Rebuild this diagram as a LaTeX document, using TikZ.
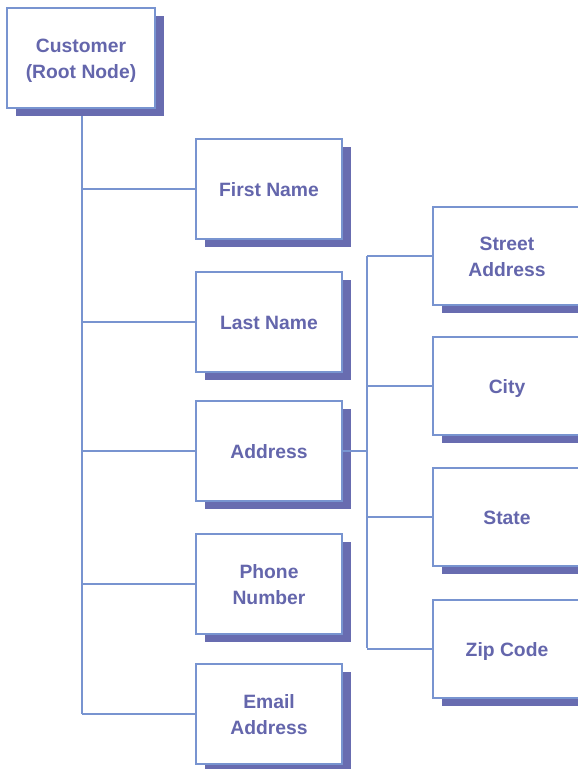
\documentclass[tikz,border=0pt]{standalone}
\usepackage{fontspec}
\setmainfont{Liberation Sans}[BoldFont={Liberation Sans Bold}]
\usetikzlibrary{shadows}
\definecolor{bordercol}{RGB}{120,148,208}
\definecolor{shadowcol}{RGB}{104,108,176}
\definecolor{textcol}{RGB}{100,102,172}
\newcommand{\boxtext}[1]{\raisebox{-7.5pt}[0pt][0pt]{\begin{tabular}{@{}c@{}}#1\end{tabular}}}
\tikzset{
  box/.style={draw=bordercol, line width=1.2pt, fill=white, align=center,
    text=textcol, font=\bfseries\fontsize{19.3}{26.5}\selectfont,
    inner sep=0pt, minimum width=146pt, minimum height=100pt,
    drop shadow={shadow xshift=8.5pt, shadow yshift=-7.5pt, fill=shadowcol, opacity=1}},
  rbox/.style={box, minimum width=148pt, minimum height=98pt},
  rootbox/.style={box, minimum width=148pt},
  conn/.style={draw=bordercol, line width=1.2pt}
}
\begin{document}
\begin{tikzpicture}[x=1pt,y=-1pt]
\useasboundingbox (0,0) rectangle (578,769);
\clip (0,0) rectangle (578,769);
\fill[white] (0,0) rectangle (578,769);
\coordinate (t0) at (82,108);
\coordinate (t5) at (82,714);
\coordinate (r0) at (367,256);
\coordinate (r4) at (367,648);
\draw[conn] (t0) -- (t5);
\draw[conn] (r0) -- (r4);
\node[rootbox] (root) at (81,58) {\boxtext{Customer\\(Root Node)}};
\node[box] (first) at (269,189) {\boxtext{First Name}};
\node[box] (last) at (269,322) {\boxtext{Last Name}};
\node[box] (addr) at (269,451) {\boxtext{Address}};
\node[box] (phone) at (269,584) {\boxtext{Phone\\Number}};
\node[box] (email) at (269,714) {\boxtext{Email\\Address}};
\node[rbox] (street) at (507,256) {\boxtext{Street\\Address}};
\node[rbox] (city) at (507,386) {\boxtext{City}};
\node[rbox] (state) at (507,517) {\boxtext{State}};
\node[rbox] (zip) at (507,649) {\boxtext{Zip Code}};
\draw[conn] (first.west -| t0) -- (first.west);
\draw[conn] (last.west -| t0) -- (last.west);
\draw[conn] (addr.west -| t0) -- (addr.west);
\draw[conn] (phone.west -| t0) -- (phone.west);
\draw[conn] (email.west -| t0) -- (email.west);
\draw[conn] (addr.east) -- (addr.east -| r0);
\draw[conn] (street.west -| r0) -- (street.west);
\draw[conn] (city.west -| r0) -- (city.west);
\draw[conn] (state.west -| r0) -- (state.west);
\draw[conn] (zip.west -| r0) -- (zip.west);
\end{tikzpicture}
\end{document}
